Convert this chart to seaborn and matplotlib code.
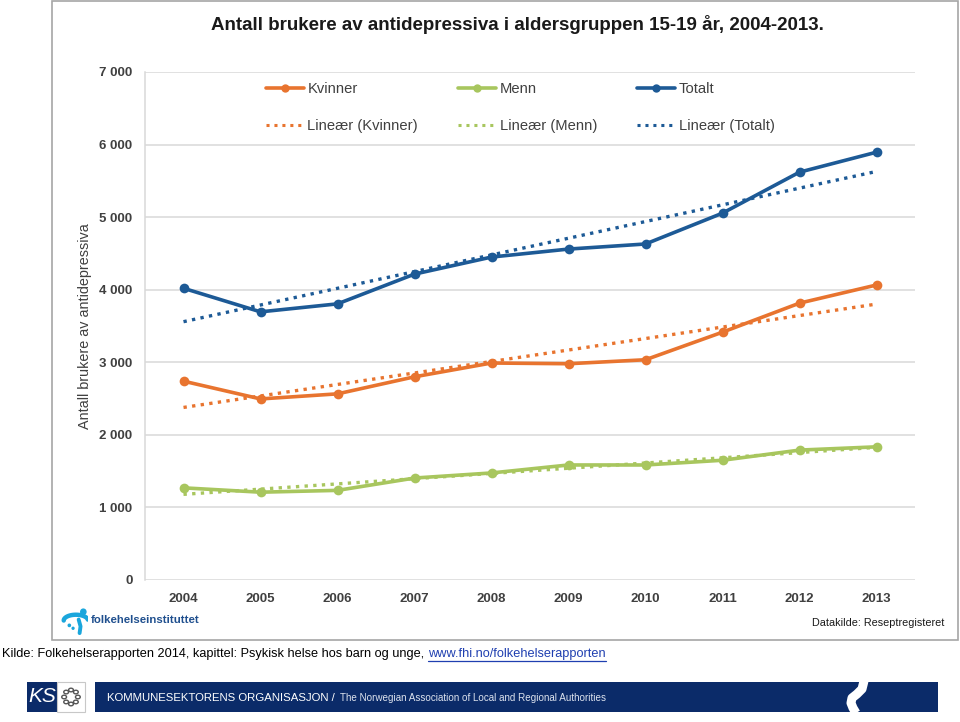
import numpy as np
import pandas as pd
import matplotlib
matplotlib.use("Agg")
import matplotlib.pyplot as plt
import seaborn as sns
from matplotlib.patches import Rectangle, Circle
from matplotlib.lines import Line2D

years = [2004, 2005, 2006, 2007, 2008, 2009, 2010, 2011, 2012, 2013]
kvinner = [2740, 2495, 2565, 2800, 2990, 2980, 3035, 3415, 3815, 4065]
menn = [1270, 1210, 1235, 1405, 1475, 1585, 1585, 1650, 1790, 1835]
totalt = [4020, 3695, 3805, 4215, 4450, 4560, 4630, 5055, 5620, 5895]
series_names = ["Kvinner", "Menn", "Totalt"]
ytick_vals = [0, 1000, 2000, 3000, 4000, 5000, 6000, 7000]
ytick_labels = ["0", "1 000", "2 000", "3 000", "4 000", "5 000", "6 000", "7 000"]

colors = {"Kvinner": "#E8742F", "Menn": "#A8C65E", "Totalt": "#1D5A96"}

sns.set_theme(style="white")
plt.rcParams['font.family'] = ['Liberation Sans', 'DejaVu Sans']

df = pd.DataFrame({"År": [str(y) for y in years] * 3,
                   "pos": list(range(len(years))) * 3,
                   "Antall": kvinner + menn + totalt,
                   "Serie": ["Kvinner"] * 10 + ["Menn"] * 10 + ["Totalt"] * 10})

fig = plt.figure(figsize=(9.6, 7.22), dpi=100)
W, H = 960, 722

def fx(x):
    return x / W

def fy(y):
    return 1 - y / H

# outer chart frame
fig.patches.append(Rectangle((fx(52), fy(640)), fx(958) - fx(52), fy(1) - fy(640),
                             transform=fig.transFigure, fill=False, edgecolor="#A6A6A6", lw=1.2))

ax = fig.add_axes([fx(145), fy(580), fx(915) - fx(145), fy(72) - fy(580)])
ax.set_facecolor("none")

for name in series_names:
    sub = df[df["Serie"] == name]
    sns.lineplot(data=sub, x="pos", y="Antall", ax=ax, color=colors[name], lw=2.6,
                 marker="o", markersize=7, markeredgewidth=0, legend=False)
    # linear trend (Excel "Lineær")
    coef = np.polyfit(sub["pos"].values, sub["Antall"].values, 1)
    xs = np.array([0, len(years) - 1])
    ax.plot(xs, np.polyval(coef, xs), color=colors[name], lw=2.4, ls=(0, (1, 1.6)))

ax.set_xlim(-0.5, len(years) - 0.5)
ax.set_ylim(0, 7000)
ax.set_yticks(ytick_vals)
ax.set_yticklabels(ytick_labels)
ax.set_xticks(range(len(years)))
ax.set_xticklabels([str(y) for y in years])
ax.yaxis.grid(True, color="#D9D9D9", lw=1.1)
ax.set_axisbelow(True)
for s in ["top", "right", "bottom"]:
    ax.spines[s].set_visible(False)
ax.spines["left"].set_color("#D9D9D9")
ax.spines["left"].set_linewidth(1.1)
ax.tick_params(axis="y", length=5, color="#D9D9D9", width=1.1, pad=4,
               labelsize=9.5, labelcolor="#404040")
ax.tick_params(axis="x", length=0, pad=9, labelsize=9.5, labelcolor="#404040")
for t in ax.get_yticklabels() + ax.get_xticklabels():
    t.set_fontweight("bold")
ax.set_xlabel("")
ax.set_ylabel("Antall brukere av antidepressiva", fontsize=10.4, color="#404040", labelpad=5)

# white band to hide gridline area under legend
ax.add_patch(Rectangle((-0.5, 6030), len(years), 940, facecolor="white", edgecolor="none", zorder=1.5))

handles = []
labels = []
for name in series_names:
    handles.append(Line2D([], [], color=colors[name], lw=2.6, marker="o", markersize=6, markeredgewidth=0))
    labels.append(name)
    handles.append(Line2D([], [], color=colors[name], lw=2.2, ls=(0, (1, 1.6))))
    labels.append("Lineær (" + name + ")")
leg = ax.legend(handles, labels, ncol=3, loc="upper left", bbox_to_anchor=(0.140, 1.006),
                frameon=False, fontsize=10.6, handlelength=2.55, handletextpad=0.25,
                columnspacing=2.75, labelspacing=1.55, labelcolor="#404040")

fig.text(fx(517), fy(25), "Antall brukere av antidepressiva i aldersgruppen 15-19 år, 2004-2013.",
         ha="center", va="center", fontsize=13.5, fontweight="bold", color="#1A1A1A")

fig.text(fx(944), fy(623), "Datakilde: Reseptregisteret", ha="right", va="center",
         fontsize=7.8, color="#1A1A1A")

# folkehelseinstituttet logo (approximation)
lax = fig.add_axes([fx(60), fy(636), fx(28), fy(607) - fy(636)])
lax.set_xlim(0, 30); lax.set_ylim(0, 30); lax.axis("off")
t = np.linspace(0, np.pi * 0.95, 40)
lax.plot(4 + 13 * np.cos(np.pi - t) + 13, 18 + 6 * np.sin(t) - 2, color="#1AA6DC", lw=3.2, solid_capstyle="round")
lax.plot([20, 22, 21], [17, 10, 3], color="#1AA6DC", lw=2.8, solid_capstyle="round")
lax.add_patch(Circle((25, 25), 2.8, color="#1AA6DC"))
lax.add_patch(Circle((10, 11), 1.2, color="#1AA6DC"))
lax.add_patch(Circle((14, 8), 1.0, color="#1AA6DC"))
fig.text(fx(91), fy(620), "folkehelseinstituttet", ha="left", va="center",
         fontsize=8.2, fontweight="bold", color="#1F4F8E")

# source line
fig.canvas.draw()
renderer = fig.canvas.get_renderer()
t1 = fig.text(fx(2), fy(654), "Kilde: Folkehelserapporten 2014, kapittel: Psykisk helse hos barn og unge,",
              ha="left", va="center", fontsize=9.2, color="#000000")
bb = t1.get_window_extent(renderer)
x_link = bb.x1 + 4
t2 = fig.text(x_link / W, fy(654), "www.fhi.no/folkehelserapporten", ha="left", va="center",
              fontsize=9.2, color="#1F3FB0")
bb2 = t2.get_window_extent(renderer)
fig.lines.append(Line2D([bb2.x0 / W, bb2.x1 / W], [fy(661), fy(661)], transform=fig.transFigure,
                        color="#1F3FB0", lw=0.9))

# KS banner
navy = "#0B2B69"
fig.patches.append(Rectangle((fx(27), fy(712)), fx(30), fy(682) - fy(712),
                             transform=fig.transFigure, facecolor=navy, edgecolor="none"))
fig.patches.append(Rectangle((fx(57), fy(712)), fx(28), fy(682) - fy(712),
                             transform=fig.transFigure, facecolor="white", edgecolor="#C8C8C8", lw=0.8))
fig.text(fx(42), fy(697), "KS", ha="center", va="center", fontsize=15, style="italic",
         color="white", family="Liberation Sans")
ang = np.linspace(0, 2 * np.pi, 9)[:-1]
for a in ang:
    fig.patches.append(Circle((fx(71) + fx(7) * np.cos(a) * 0.98, fy(697) + (fy(0) - fy(7)) * np.sin(a)),
                              0.0025, transform=fig.transFigure, fill=False, edgecolor="#555555", lw=1.0))
fig.patches.append(Rectangle((fx(95), fy(712)), fx(938) - fx(95), fy(682) - fy(712),
                             transform=fig.transFigure, facecolor=navy, edgecolor="none"))
t3 = fig.text(fx(107), fy(698), "KOMMUNESEKTORENS ORGANISASJON / ", ha="left", va="center",
              fontsize=8.2, color="white")
bb3 = t3.get_window_extent(renderer)
fig.text((bb3.x1 + 2) / W, fy(698), "The Norwegian Association of Local and Regional Authorities",
         ha="left", va="center", fontsize=7.1, color="#DDE3EE")
# white S-shaped slash
sx = [864, 862, 857, 852, 851, 853, 856]
sy = [681, 689, 694, 698, 703, 708, 713]
fig.lines.append(Line2D([fx(v) for v in sx], [fy(v) for v in sy], transform=fig.transFigure,
                        color="white", lw=6.5, solid_capstyle="butt", solid_joinstyle="round"))

fig.savefig("out.png", dpi=100, facecolor="white")
